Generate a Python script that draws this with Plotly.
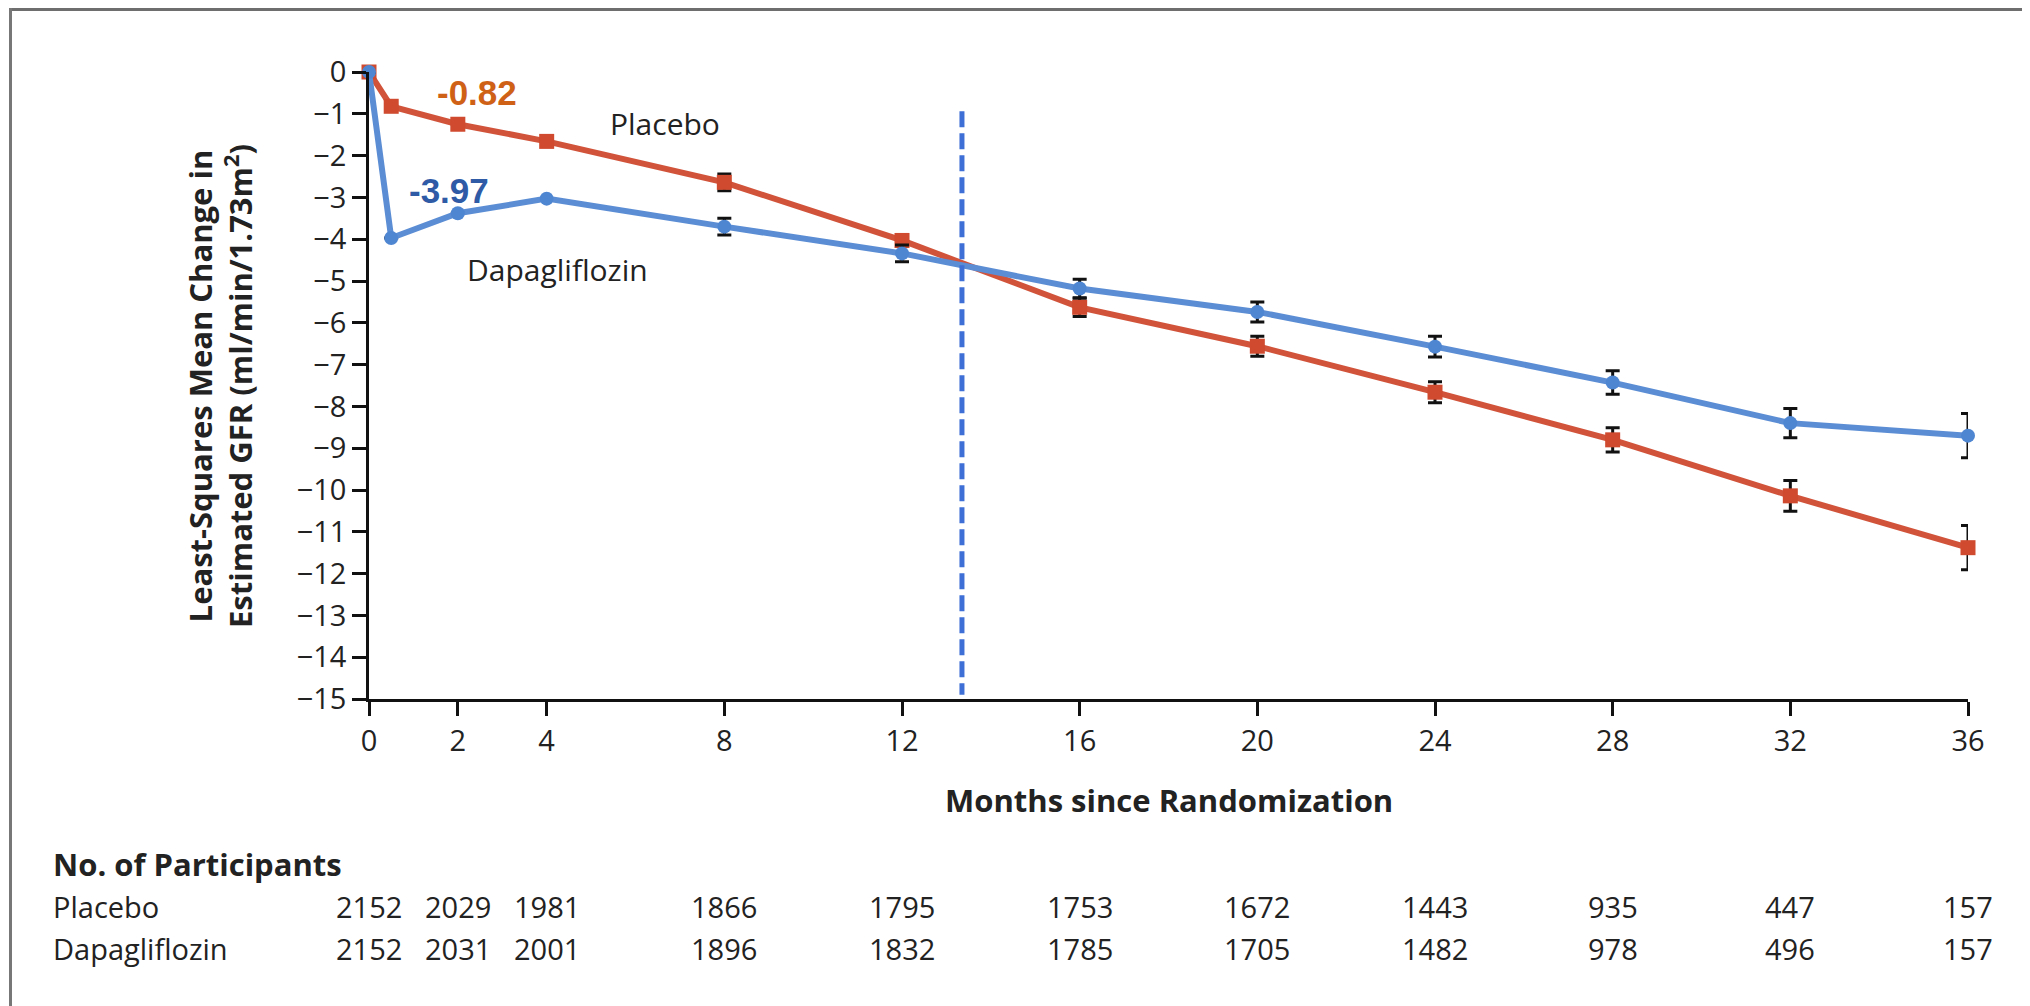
import plotly.graph_objects as go

# ---------------- data ----------------
months = [0, 0.5, 2, 4, 8, 12, 16, 20, 24, 28, 32, 36]
placebo = [0, -0.82, -1.25, -1.66, -2.64, -4.03, -5.63, -6.56, -7.66, -8.80, -10.14, -11.38]
placebo_err = [None, None, None, None, 0.20, 0.14, 0.22, 0.24, 0.25, 0.29, 0.37, 0.53]
dapa = [0, -3.97, -3.38, -3.03, -3.70, -4.34, -5.18, -5.74, -6.57, -7.43, -8.40, -8.70]
dapa_err = [None, None, None, None, 0.20, 0.20, 0.22, 0.24, 0.25, 0.28, 0.35, 0.53]

crossover_month = 13.35

x_ticks = [0, 2, 4, 8, 12, 16, 20, 24, 28, 32, 36]
y_ticks = list(range(0, -16, -1))

count_months = [0, 2, 4, 8, 12, 16, 20, 24, 28, 32, 36]
placebo_n = [2152, 2029, 1981, 1866, 1795, 1753, 1672, 1443, 935, 447, 157]
dapa_n = [2152, 2031, 2001, 1896, 1832, 1785, 1705, 1482, 978, 496, 157]

placebo_initial_label = "-0.82"
dapa_initial_label = "-3.97"

# ---------------- layout geometry ----------------
# the page body has an 8px default margin; figure is sized to fit the window
OFF = 8
W, H = 2030 - OFF, 1006 - OFF
# plot-area edges in page pixels
PL, PR, PT, PB = 369, 1968, 72, 699


def px_x(px):
    return (px - PL) / (PR - PL)


def px_y(py):
    return (PB - py) / (PB - PT)


RED_LINE = "#d1533a"
RED_MARK = "#cf4a2e"
BLUE_LINE = "#5b8dd4"
BLUE_MARK = "#4f86d2"
TXT = "#222222"
REG = "Open Sans, Noto Sans, sans-serif"
BOLD_FONT = dict(family=REG, size=31, color=TXT, weight="bold")

fig = go.Figure()

fig.add_trace(go.Scatter(
    x=months, y=placebo, mode="lines+markers", name="Placebo",
    line=dict(color=RED_LINE, width=6),
    marker=dict(symbol="square", size=15, color=RED_MARK),
    error_y=dict(type="data", array=placebo_err, color="#111111", thickness=3, width=7),
    cliponaxis=False, showlegend=False,
))
fig.add_trace(go.Scatter(
    x=months, y=dapa, mode="lines+markers", name="Dapagliflozin",
    line=dict(color=BLUE_LINE, width=6),
    marker=dict(symbol="circle", size=14, color=BLUE_MARK),
    error_y=dict(type="data", array=dapa_err, color="#111111", thickness=3, width=7),
    cliponaxis=False, showlegend=False,
))

# dashed vertical reference line
fig.add_shape(type="line", xref="x", yref="y",
              x0=crossover_month, x1=crossover_month, y0=-0.94, y1=-14.9,
              line=dict(color="#3d6fd6", width=5, dash="16px,6px"))

# frame (top and left borders)
fig.add_shape(type="line", xref="paper", yref="paper",
              x0=px_x(9), x1=px_x(2040), y0=px_y(9.5), y1=px_y(9.5),
              line=dict(color="#6e6e6e", width=3))
fig.add_shape(type="line", xref="paper", yref="paper",
              x0=px_x(10.5), x1=px_x(10.5), y0=px_y(8), y1=px_y(1015),
              line=dict(color="#777777", width=3))

C = dict(xanchor="center", yanchor="middle", showarrow=False)
ann = []
# series labels
ann.append(dict(x=6.66, y=-1.23, xref="x", yref="y", text="Placebo",
                font=dict(family=REG, size=30, color=TXT), **C))
ann.append(dict(x=4.25, y=-4.72, xref="x", yref="y", text="Dapagliflozin",
                font=dict(family=REG, size=30, color=TXT), **C))
ann.append(dict(x=2.44, y=-0.50, xref="x", yref="y", text=placebo_initial_label,
                font=dict(family="Liberation Sans, Arial, sans-serif", size=35, color="#cf6116", weight="bold"), **C))
ann.append(dict(x=1.79, y=-2.83, xref="x", yref="y", text=dapa_initial_label,
                font=dict(family="Liberation Sans, Arial, sans-serif", size=35, color="#2e5aa6", weight="bold"), **C))

# axis titles
ann.append(dict(x=px_x(220), y=px_y(386), xref="paper", yref="paper", textangle=-90,
                text="Least-Squares Mean Change in<br>Estimated GFR (ml/min/1.73m<sup>2</sup>)",
                font=BOLD_FONT, align="center", **C))
ann.append(dict(x=0.5, y=px_y(800), xref="paper", yref="paper",
                text="Months since Randomization", font=BOLD_FONT, **C))

# participants table
L_ = dict(xanchor="left", yanchor="middle", showarrow=False)
ann.append(dict(x=px_x(51), y=px_y(864), xref="paper", yref="paper",
                text="No. of Participants", font=BOLD_FONT, **L_))
row_font = dict(family=REG, size=29, color=TXT)
for label, counts, ypx in (("Placebo", placebo_n, 906), ("Dapagliflozin", dapa_n, 948)):
    ann.append(dict(x=px_x(51), y=px_y(ypx), xref="paper", yref="paper",
                    text=label, font=row_font, **L_))
    for m, n in zip(count_months, counts):
        ann.append(dict(x=m, y=px_y(ypx), xref="x", yref="paper",
                        text=str(n), font=row_font, **C))

axis_common = dict(showline=True, linecolor="#111111", linewidth=2.5, ticks="outside",
                   ticklen=14, tickwidth=2.5, tickcolor="#111111", showgrid=False,
                   zeroline=False, tickfont=dict(family=REG, size=29, color=TXT))

fig.update_layout(
    width=W, height=H,
    margin=dict(l=PL - OFF, r=W - (PR - OFF), t=PT - OFF, b=H - (PB - OFF), pad=0),
    paper_bgcolor="white", plot_bgcolor="white",
    xaxis=dict(range=[0, 36], tickvals=x_ticks, ticktext=[str(v) for v in x_ticks], **axis_common),
    yaxis=dict(range=[-15, 0], tickvals=y_ticks,
               ticktext=[("\u2212" + str(-v)) if v < 0 else str(v) for v in y_ticks], **axis_common),
    annotations=ann,
)

fig.write_html("out.html")
